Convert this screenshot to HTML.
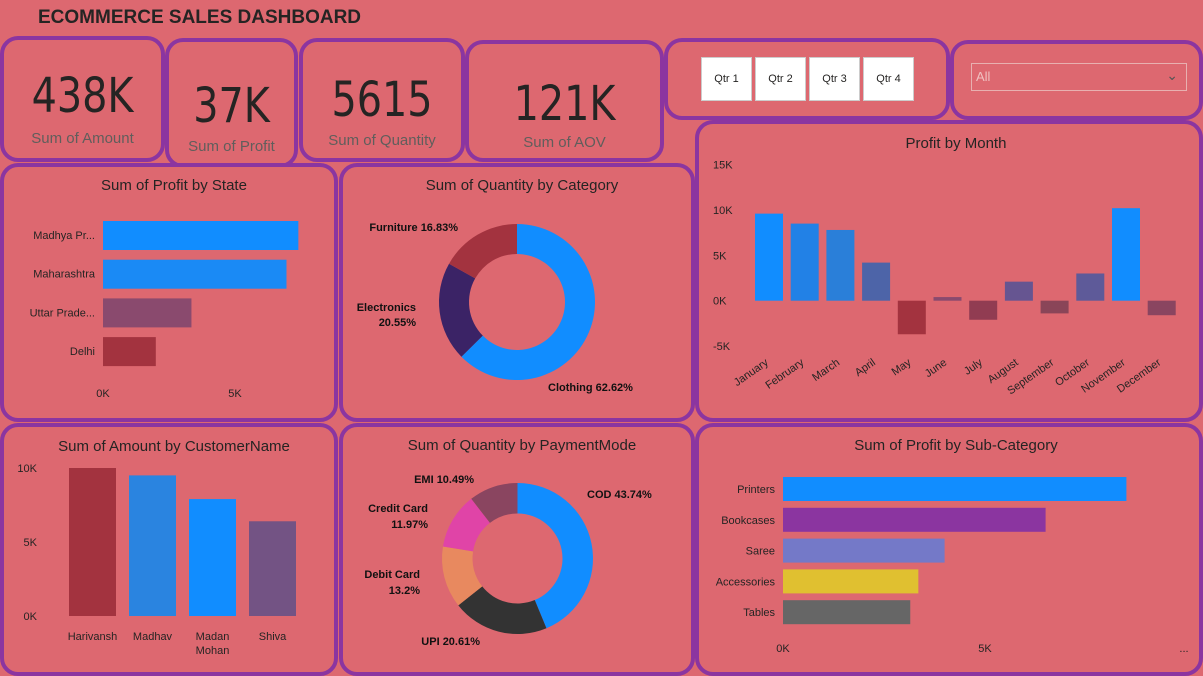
<!DOCTYPE html>
<html><head><meta charset="utf-8"><style>
body{margin:0;width:1203px;height:674px;background:#dd6870;font-family:"Liberation Sans",sans-serif;overflow:hidden;position:relative}
.p{position:absolute;border:4px solid #8b35a0;border-radius:18px;box-sizing:border-box;background:#dd6870}
.big{position:absolute;left:0;right:0;text-align:center;color:#252423;font-family:"DejaVu Sans Condensed","Liberation Sans Narrow",sans-serif;font-size:48px;transform:scaleX(0.92)}
.lab{position:absolute;left:0;right:0;text-align:center;color:#605e5c;font-size:15px}
.t{font-size:15px;fill:#252423}
.ax{font-size:11px;fill:#252423}
.q{position:absolute;top:15px;width:49px;height:42px;background:#fff;border:1px solid #ccc;font-size:11px;display:flex;align-items:center;justify-content:center;color:#252423}
</style></head><body>
<div style="position:absolute;left:38px;top:7px;font-size:19px;font-weight:bold;color:#252423">ECOMMERCE SALES DASHBOARD</div>

<div class="p" style="left:0;top:36px;width:165px;height:126px"><div class="big" style="top:28px">438K</div><div class="lab" style="top:90px">Sum of Amount</div></div>
<div class="p" style="left:165px;top:38px;width:133px;height:130px"><div class="big" style="top:36px">37K</div><div class="lab" style="top:96px">Sum of Profit</div></div>
<div class="p" style="left:299px;top:38px;width:166px;height:124px"><div class="big" style="top:30px">5615</div><div class="lab" style="top:90px">Sum of Quantity</div></div>
<div class="p" style="left:465px;top:40px;width:199px;height:122px"><div class="big" style="top:32px">121K</div><div class="lab" style="top:90px">Sum of AOV</div></div>
<div class="p" style="left:664px;top:38px;width:286px;height:82px">
<div class="q" style="left:33px">Qtr 1</div>
<div class="q" style="left:87px">Qtr 2</div>
<div class="q" style="left:141px">Qtr 3</div>
<div class="q" style="left:195px">Qtr 4</div></div>
<div class="p" style="left:950px;top:40px;width:253px;height:80px">
<div style="position:absolute;left:17px;top:19px;width:210px;height:26px;border:1px solid #e8b0b0;color:#f0c0c0;font-size:13px;line-height:26px;padding-left:4px">All<span style="position:absolute;right:8px;top:-2px;font-size:14px;color:#555">&#8964;</span></div></div>

<div class="p" style="left:0;top:163px;width:338px;height:259px"></div>
<div class="p" style="left:339px;top:163px;width:356px;height:259px"></div>
<div class="p" style="left:695px;top:120px;width:508px;height:302px"></div>
<div class="p" style="left:0;top:423px;width:338px;height:253px"></div>
<div class="p" style="left:339px;top:423px;width:356px;height:253px"></div>
<div class="p" style="left:695px;top:423px;width:508px;height:253px"></div>

<svg id="s" width="1203" height="674" style="position:absolute;left:0;top:0"></svg>
<script>
const states=["Madhya Pr...","Maharashtra","Uttar Prade...","Delhi"];
const stateProfit=[7.4,6.95,3.35,2.0];
const stateColors=["#118dff","#1a8af5","#8a4a6e","#a3333f"];
const catNames=["Clothing","Electronics","Furniture"];
const catPct=[62.62,20.55,16.83];
const catColors=["#118dff","#3b2366","#a3333f"];
const months=["January","February","March","April","May","June","July","August","September","October","November","December"];
const monthProfit=[9.6,8.5,7.8,4.2,-3.7,0.4,-2.1,2.1,-1.4,3.0,10.2,-1.6];
const monthColors=["#118dff","#2281e6","#2a7fd9","#4d64a8","#a3333f","#8a4a6e","#913c52","#665591","#8a4558","#5e5a99","#118dff","#8a4560"];
const customers=["Harivansh","Madhav","Madan|Mohan","Shiva"];
const custAmount=[10.0,9.5,7.9,6.4];
const custColors=["#a3333f","#2a84e0","#118dff","#735384"];
const payNames=["COD","UPI","Debit Card","Credit Card","EMI"];
const payPct=[43.74,20.61,13.2,11.97,10.49];
const payColors=["#118dff","#333333","#e8895f","#e044a7","#8a4560"];
const subcats=["Printers","Bookcases","Saree","Accessories","Tables"];
const subProfit=[8.5,6.5,4.0,3.35,3.15];
const subColors=["#118dff","#8b35a0","#7479c8","#e0c030","#666666"];

const s=document.getElementById('s');const NS="http://www.w3.org/2000/svg";
function E(tag,at,name,txt){const e=document.createElementNS(NS,tag);for(const k in at)e.setAttribute(k,at[k]);


if(txt!==undefined)e.textContent=txt;s.appendChild(e);return e;}
function title(x,y,t){E('text',{x:x,y:y,'text-anchor':'middle',class:'t'},'chart-title',t);}

// State
title(174,190,"Sum of Profit by State");
const sx=v=>103+v*132/5;
states.forEach((n,i)=>{const y=221+i*38.7;
E('rect',{x:sx(0),y:y,width:sx(stateProfit[i])-sx(0),height:29,fill:stateColors[i]},'state-bar');
E('text',{x:95,y:y+18,'text-anchor':'end',class:'ax'},'state-label',n);});
["0K","5K"].forEach((t,i)=>E('text',{x:sx(i*5),y:397,'text-anchor':'middle',class:'ax'},'x-tick',t));

// Donut
function donut(cx,cy,R,r,vals,cols,name){let a=-Math.PI/2;const tot=vals.reduce((p,c)=>p+c,0);
vals.forEach((v,i)=>{const b=a+v/tot*2*Math.PI;const lg=(b-a)>Math.PI?1:0;
const p=`M${cx+R*Math.cos(a)} ${cy+R*Math.sin(a)} A${R} ${R} 0 ${lg} 1 ${cx+R*Math.cos(b)} ${cy+R*Math.sin(b)} L${cx+r*Math.cos(b)} ${cy+r*Math.sin(b)} A${r} ${r} 0 ${lg} 0 ${cx+r*Math.cos(a)} ${cy+r*Math.sin(a)}Z`;
E('path',{d:p,fill:cols[i]},name);a=b;});}
title(522,190,"Sum of Quantity by Category");
donut(517,302,78,48,catPct,catColors,'category-slice');
function lbl(x,y,t,anchor){E('text',{x:x,y:y,'text-anchor':anchor,'font-size':'11','font-weight':'bold',fill:'#111'},'slice-label',t);}
lbl(548,391,catNames[0]+" "+catPct[0]+"%","start");
lbl(416,311,catNames[1],"end");lbl(416,326,catPct[1]+"%","end");
lbl(458,231,catNames[2]+" "+catPct[2]+"%","end");

// Month
title(956,148,"Profit by Month");
const my=v=>300.7-v*9.07;
[15,10,5,0,-5].forEach(v=>E('text',{x:713,y:my(v)+4,class:'ax'},'y-tick',v+"K"));
months.forEach((m,i)=>{const x=755+i*35.7;const v=monthProfit[i];
E('rect',{x:x,y:Math.min(my(v),my(0)),width:28,height:Math.abs(my(v)-my(0)),fill:monthColors[i]},'month-bar');
E('text',{x:x+14,y:364,'text-anchor':'end',class:'ax',transform:`rotate(-35 ${x+14} 364)`},'month-label',m);});

// Customer
title(174,451,"Sum of Amount by CustomerName");
const cy=v=>616-v*14.8;
[0,5,10].forEach(v=>E('text',{x:37,y:cy(v)+4,'text-anchor':'end',class:'ax'},'y-tick',v+"K"));
customers.forEach((c,i)=>{const x=69+i*60;
E('rect',{x:x,y:cy(custAmount[i]),width:47,height:cy(0)-cy(custAmount[i]),fill:custColors[i]},'customer-bar');
c.split('|').forEach((w,j)=>E('text',{x:x+23.5,y:640+j*14,'text-anchor':'middle',class:'ax'},'customer-label',w));});

// Payment
title(522,450,"Sum of Quantity by PaymentMode");
donut(517.5,558.5,75.5,45,payPct,payColors,'payment-slice');
lbl(587,498,"COD 43.74%","start");
lbl(480,645,"UPI 20.61%","end");
lbl(420,578,"Debit Card","end");lbl(420,594,"13.2%","end");
lbl(428,512,"Credit Card","end");lbl(428,528,"11.97%","end");
lbl(474,483,"EMI 10.49%","end");

// Subcategory
title(956,450,"Sum of Profit by Sub-Category");
const bx=v=>783+v*40.4;
subcats.forEach((n,i)=>{const y=477+i*30.8;
E('rect',{x:bx(0),y:y,width:bx(subProfit[i])-bx(0),height:24,fill:subColors[i]},'subcategory-bar');
E('text',{x:775,y:y+16,'text-anchor':'end',class:'ax'},'subcategory-label',n);});
["0K","5K"].forEach((t,i)=>E('text',{x:bx(i*5),y:652,'text-anchor':'middle',class:'ax'},'x-tick',t));
E('text',{x:1184,y:652,'text-anchor':'middle',class:'ax'},'x-tick','...');
</script>
</body></html>
